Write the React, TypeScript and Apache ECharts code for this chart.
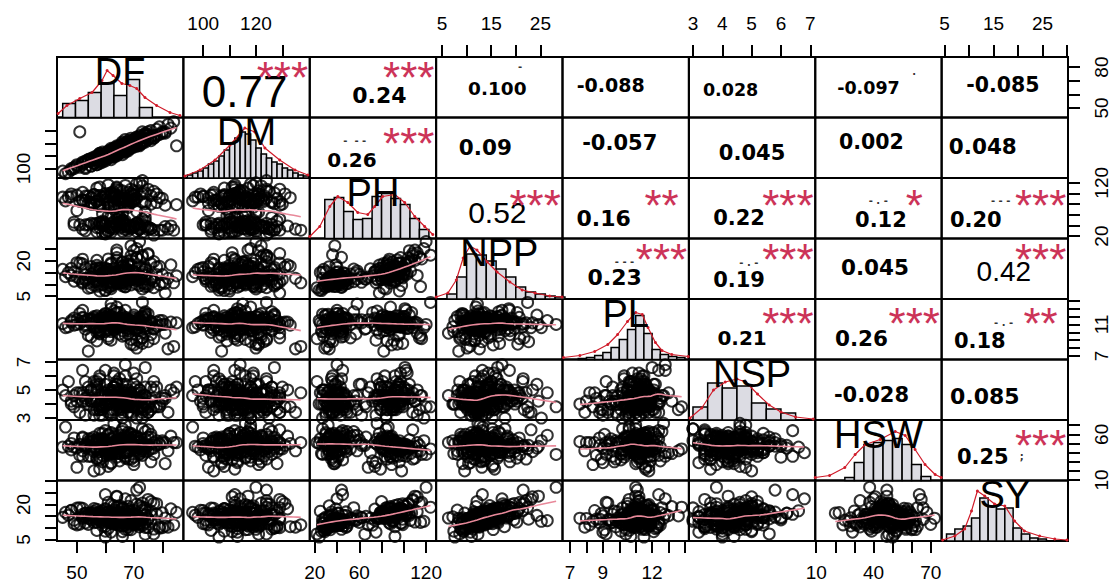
import React, { useEffect, useRef } from "react";
import * as echarts from "echarts";

// ---------- data ----------
const VARS = ["DF", "DM", "PH", "NPP", "PL", "NSP", "HSW", "SY"];

const DF = [62,58,71,66,49,75,68,55,64,70, 60,73,52,67,78,63,57,69,65,82, 47,61,72,66,59,76,54,68,63,71, 65,58,80,62,51,69,74,56,67,64, 70,61,53,77,66,59,72,48,63,68, 57,74,65,60,79,62,55,71,67,84, 50,64,73,58,69,66,76,61,56,70, 63,67,52,75,60,68,81,57,65,72, 46,62,70,59,74,66,54,69,63,77, 61,71,58,65,83,67,53,73,64,69,
  66,59,72,54,68,61,77,63,57,70, 64,52,69,74,60,67,58,81,65,71, 56,62,73,66,49,68,60,75,63,55, 70,65,58,79,62,67,53,72,61,69, 64,57,76,66,50,71,63,59,68,74, 45,65,62,70,56,73,67,60,64,85,
  68,55,63,72,60,66,58,75,62,70, 53,67,64,78,59,71,61,65,56,73, 69,62,48,66,74,57,64,70,60,67, 63,76,58,68,52,65,71,61,80,66, 59,69,64,55,73,62,67,57,70,64, 61,74,66,51,68,63,72,58,65,62];
const DM = [110,112,118,121,101,127,114,108,117,119, 106,129,104,113,131,116,103,124,112,135, 97,114,120,111,110,122,106,122,109,125, 118,104,128,115,129,116,127,109,120,111, 117,108,100,124,119,113,126,99,110,121, 110,121,114,112,133,107,102,118,123,137, 103,116,120,111,122,113,130,112,104,123, 115,114,105,123,108,117,129,108,117,119, 96,113,121,106,128,115,107,118,112,126, 109,124,110,113,132,119,101,125,118,120,
  118,105,125,107,115,113,124,116,109,122, 111,103,121,126,108,119,112,128,117,118, 104,114,121,120,100,116,111,129,110,106, 118,116,106,127,113,115,105,123,112,117, 115,108,125,114,102,120,114,110,119,122, 98,113,109,121,107,124,118,111,116,118,
  120,102,115,119,112,114,110,123,116,118, 106,120,112,126,107,124,109,118,108,121, 117,110,100,117,127,105,117,121,108,115, 111,124,109,116,104,113,120,113,129,118, 111,121,113,107,122,114,116,103,123,110, 112,126,115,101,119,116,118,106,116,113];
const PH = [35,79,43, 90,46,32,102,83,40,97,24,52,87, 38,99,76,44,108,55,33,93,81,120, 29,62,96,41,89,70,104,47,36,91, 58,85,34,101,43,87,112,39,74,95, 22,50,93,42,99,80,35,86,65,106, 45,92,37,82,118,88,31,97,60,84, 45,38,92,80,28,98,85,34,40,88, 36,95,30,78,110,42,33,86,75,105, 25,48,90,82,37,100,31,84,44,96, 72,39,115,41,27,88,94,
  88,42,36,95,78,30,104,47,85,40, 97,33,91,55,26,83,112,38,92,45, 80,35,99,62,41,86,27,108,94,44, 37,90,76,31,101,48,87,39,116,84, 43,96,34,89,68,29,103,46,82,39, 93,57,36,98,81,124,32,88,41,79,
  40,92,85,33,100,46,78,37,95,88, 30,44,107,83,39,91,58,35,98,42, 86,27,94,49,81,36,110,89,41,76, 97,34,45,87,102,38,66,93,31,84, 48,99,39,80,114,43,90,28,96,52, 37,85,105,41,74,92,33,88,46,101];
const NPP = [10.1,15.7,12.5, 16.1,11.4,9.3,18.5,13.2,12.8,15.5,7.6,14.4,20.7, 10.3,17.4,12.3,13.5,22.1,11.2,12.6,15.0,14.6,28.2, 9.4,13.1,18.8,10.6,13.7,16.6,21.3,11.8,13.4,14.2, 12.2,19.1,9.8,16.3,11.1,12.9,23.4,12.4,15.3,17.1, 8.6,10.4,14.8,12.0,16.8,13.9,11.5,18.1,12.3,15.6, 13.2,17.7,9.2,14.5,25.2,13.6,10.7, 19.2,14.3,8.1,13.8,26.4,11.0,12.1,16.4,9.6,13.0, 12.7,17.2,10.5,22.6,14.1,15.4,6.3,20.2,11.6,17.5, 13.3,10.8,24.3,15.1,10.2,19.6,8.4,12.0,14.7,11.3, 16.2,21.5,7.2,13.6,18.3,9.1,12.4,15.2,11.9,20.4,
  17.3,9.8,13.9,12.6,18.2,8.8,19.7,14.6,11.7,12.3, 21.4,11.1,14.2,16.5,7.4,15.9,13.8,10.4,17.9,13.2, 12.1,9.4,16.7,10.9,15.3,19.8,12.6,23.1,14.9,8.7, 12.9,13.5,16.2,9.9,18.6,11.5,14.1,13.7,20.8,12.4, 10.7,17.0,11.9,15.6,13.1,10.1,14.4,12.2,18.9,9.1, 16.4,14.8,11.4,13.3,15.1,22.4,12.7,16.9,10.3,13.6,
  13.4,17.6,12.3,9.5,15.2,14.9,16.8,10.2,19.1,13.1, 11.8,8.9,20.3,14.2,12.9,11.6,15.7,13.0,16.4,10.6, 18.3,8.2,13.8,12.1,17.2,11.3,24.6,15.4,14.0,11.9, 14.6,12.6,9.7,16.1,18.7,13.6,12.2,14.4,10.9,17.8, 13.3,12.8,15.1,13.2,21.7,11.0,16.3,9.2,14.7,12.5, 10.8,13.9,19.4,12.4,15.5,11.8,13.1,17.0,10.5,14.3];
const PL = [10.9,11.6,10.2,11.4,11.8,12.3,10.5,11.1,11.2, 10.8,11.5,9.3,11.9,10.6,11.3,12.7,10.0,11.2,11.6, 7.9,10.7,11.4,11.0,12.1,11.2,9.7,11.7,10.9,11.3, 11.0,11.8,10.3,11.5,13.6,11.1,9.1,12.0,10.6,11.4, 11.2,10.5,11.8,11.0,9.2,11.5,12.1,10.2,11.3,10.8, 9.8,11.6,10.4,11.1,12.4,10.9,11.4,11.7,10.6,11.9, 8.2,11.0,11.3,12.0,10.1,11.5,10.7,11.2,9.5,11.8, 11.0,10.3,12.8,11.4,8.8,11.1,11.6,9.9,11.3,10.9, 11.5,10.6,9.0,12.2,11.2,10.8,11.4,7.6,11.0,11.7, 10.4,11.9,11.1,10.7,12.5,11.3,9.6,11.5,11.0,13.2, 8.5,
  11.3,10.8,11.9,9.6,11.1,12.2,10.5,11.6,8.9,11.4, 10.7,11.8,11.2,12.6,10.1,11.5,9.9,11.0,11.7,10.4, 12.0,11.3,8.6,11.6,10.9,11.2,12.3,10.6,11.4,9.4, 11.9,11.0,10.3,11.5,13.0,11.1,10.8,11.7,9.2,11.3, 10.5,12.1,11.4,10.9,11.6,8.0,11.2,11.8,10.2,12.4, 11.1,9.8,11.5,10.7,11.3,13.8,11.0,10.4,11.7,11.2,
  11.0,11.7,10.6,11.3,12.0,9.5,11.5,10.9,11.8,11.2, 10.4,11.4,12.5,10.8,11.1,9.0,11.6,11.3,10.7,11.9, 11.2,10.1,11.5,11.8,12.2,10.6,11.0,8.4,11.4,11.7, 10.9,11.3,9.8,11.6,12.8,11.1,10.5,11.4,11.0,10.2, 11.8,11.2,10.8,11.5,9.3,12.1,11.3,10.6,11.7,11.0, 10.3,11.6,11.2,12.4,10.9,11.4,8.8,11.5,11.1,10.7];
const NSP = [4.4,3.6,5.2,3.8,4.6,4.0,5.0, 4.4,3.6,6.2,4.0,3.4,4.8,5.4,3.8,4.6,4.2, 4.8,4.0,3.4,5.6,4.4,3.8,5.0,3.2,4.2,4.6, 3.8,5.2,4.4,4.0,6.0,4.2,3.6,4.8,4.6,6.6, 3.2,4.2,5.0,3.8,4.6,4.4,5.6,4.0,3.6,4.8, 4.2,4.6,3.4,5.2,4.0,4.4,6.4,3.8,4.2,5.0, 3.0,4.0,4.8,4.2,5.4,4.6,3.6,4.8,4.4,5.2, 4.0,5.0,3.8,4.4,6.8,4.6,3.4,5.4,4.2,4.6, 4.2,3.8,5.0,4.6,3.2,5.4,4.8,3.6,4.4,4.0, 3.4,5.2,3.8,4.4,5.8,4.0,4.2,5.0,4.6,5.6, 3.0,4.2,4.8,
  4.6,3.8,4.2,5.2,4.0,3.4,5.0,4.4,3.6,4.8, 5.6,4.2,3.8,4.6,4.0,6.0,3.2,4.4,5.0,4.2, 3.6,4.8,4.4,5.4,3.8,4.0,4.6,3.4,5.2,4.2, 4.4,3.6,5.8,4.0,4.8,3.8,4.2,5.0,4.6,3.2, 4.0,5.4,4.4,3.6,4.8,4.2,6.2,3.8,4.6,4.0, 5.0,4.2,3.4,4.4,5.6,3.8,4.8,4.0,4.6,5.2,
  4.2,5.0,3.6,4.4,4.8,4.0,5.4,3.8,4.6,4.2, 3.2,4.8,4.4,5.2,4.0,3.6,4.6,5.8,4.2,3.8, 4.4,5.0,4.0,3.4,4.6,5.6,4.2,3.8,4.8,4.4, 5.2,3.6,4.0,4.6,6.4,4.2,3.8,5.0,4.4,3.0, 4.6,4.0,5.4,4.2,3.6,4.8,4.4,5.0,3.8,4.2, 4.0,5.2,4.6,3.4,4.4,6.0,4.2,3.8,4.8,4.6];
const HSW = [55, 22,43,52,46,57,49,36,54,45,50, 44,56,40,48,72,51,33,59,42,47, 45,38,52,48,30,55,58,40,47,44, 35,53,42,49,60,46,50,54,41,57, 25,47,51,56,37,52,43,49,33,55, 48,39,64,50,28,46,53,36,51,45, 54,42,32,59,47,44,50,20,49,56, 40,57,48,43,62,51,34,53,46,68, 29,45,55,41,50,52,61,44,38,49, 47,53,31,58,42,48,66,39,51,
  48,55,41,36,52,60,45,50,33,57, 47,42,54,63,39,49,51,28,46,58, 53,44,37,50,56,41,48,65,43,52, 31,47,55,49,40,59,45,52,38,54, 50,43,57,46,24,51,48,61,42,55, 46,53,39,49,57,44,70,48,35,51,
  52,44,58,39,47,55,61,42,50,35, 49,57,46,53,30,45,59,51,41,48, 56,38,50,63,44,53,47,27,54,49, 42,60,46,52,36,48,57,43,51,66, 45,50,40,55,48,62,34,52,46,58, 43,49,54,37,51,47,56,41,53,45];
const SY = [12.2,16.5,11.4, 15.6,13.3,10.1,19.2,14.4,12.6,16.2,6.1,13.5,18.3, 11.2,20.3,14.1,12.4,21.6,13.6,10.3,15.4,16.7,27.3, 8.4,14.5,17.2,11.5,15.3,14.2,20.1,12.7,13.4,16.4, 15.1,18.6,9.2,17.3,12.2,14.6,23.2,11.7,13.3,16.2, 7.4,12.1,15.6,13.2,17.5,14.3,10.4, 15.1,7.3,13.2,24.2,10.5,14.3,16.1,12.8,14.6,11.3, 18.4,12.3,17.6,15.5,13.1,6.4,21.2,12.1,16.3,15.2, 11.6,22.4,14.0,13.7,18.2,9.3,14.2,12.5,11.1,19.4, 16.6,8.2,15.3,17.1,10.2,13.4,14.1,12.4,19.5,9.5, 15.4,26.1,14.7,11.2,18.1,12.3,16.3,13.6,19.1,17.4,
  18.1,13.4,11.6,15.8,14.2,9.7,20.4,12.3,16.1,11.2, 17.3,14.8,13.0,18.6,8.6,14.1,16.9,10.8,19.5,12.7, 15.4,12.9,13.7,14.3,11.8,16.2,10.6,22.1,17.7,13.5, 11.9,15.9,14.6,9.9,15.2,16.8,12.1,13.8,20.9,14.9, 11.4,17.9,12.6,18.4,11.3,14.0,16.3,10.9,16.0,12.4, 14.5,13.1,15.7,12.0,17.1,18.8,11.5,15.0,13.9,16.6,
  12.5,15.3,16.0,10.4,17.8,13.2,14.7,13.9,19.9,11.7, 14.6,9.4,16.5,15.9,12.2,15.1,13.6,16.7,18.2,11.0, 14.8,12.0,17.4,10.7,15.6,13.8,23.5,12.9,16.2,14.0, 11.9,15.5,13.3,17.0,15.8,12.4,14.9,16.9,10.1,18.5, 15.2,11.4,14.3,16.4,20.6,13.0,12.8,8.9,17.3,14.1, 12.7,15.4,16.1,11.6,18.0,14.5,12.1,15.7,13.5,16.8];

const DATA = [DF, DM, PH, NPP, PL, NSP, HSW, SY];

// axis ranges per variable
const RANGES: number[][] = [[43, 87.4], [92.5, 140.4], [15.5, 129], [3.8, 29.5], [6.54, 14.24], [2.86, 7.17], [9.5, 75.7], [4.4, 30.2]];
const TICKS: number[][] = [[50, 60, 70, 80], [100, 110, 120, 130], [20, 40, 60, 80, 100, 120], [5, 10, 15, 20, 25], [7, 8, 9, 10, 11, 12, 13, 14], [3, 4, 5, 6, 7], [10, 20, 30, 40, 50, 60, 70], [5, 10, 15, 20, 25, 30]];
const OUTER_X_LABELS: number[][] = [[50, 70], [100, 120], [20, 60, 120], [5, 15, 25], [7, 9, 12], [3, 4, 5, 6, 7], [10, 40, 70], [5, 15, 25]];
const OUTER_Y_LABELS: number[][] = [[50, 80], [100], [20, 120], [5, 20], [7, 11], [3, 5, 7], [10, 60], [5, 20]];

// histograms (bin edges, bar heights) and density curves, per variable
const HIST_EDGES: number[][] = [
  [45, 49.5, 54, 58.5, 63, 67.5, 72, 76.5],
  [94, 96, 98, 100, 102, 104, 106, 108, 110, 112, 114, 116, 118, 120, 122, 124, 126, 128, 130, 132, 134, 136, 138, 140],
  [29, 37.5, 46, 54.5, 63, 71.5, 80, 88.5, 97, 105.5, 114, 122.5],
  [6, 8, 10, 12, 14, 16, 18, 20, 22, 24, 26, 28, 30],
  [7.5, 8, 8.5, 9, 9.5, 10, 10.5, 11, 11.5, 12, 12.5, 13, 13.5, 14],
  [3, 3.5, 4, 4.5, 5, 5.5, 6, 6.5],
  [25, 30, 35, 40, 45, 50, 55, 60, 65, 70],
  [5.4, 7.1, 8.8, 10.5, 12.2, 13.9, 15.6, 17.3, 19, 20.7, 22.4, 24.1, 25.8],
];
const HIST_COUNTS: number[][] = [
  [14, 17, 25, 34, 22, 38, 10],
  [3, 5, 7, 10, 14, 17, 22, 28, 34, 40, 46, 44, 38, 30, 24, 20, 16, 14, 10, 8, 5, 3, 2],
  [39, 41, 27, 19, 20, 42, 45, 40, 34, 20, 9],
  [5, 22, 45, 44, 38, 30, 22, 12, 7, 5, 3, 2],
  [1, 2, 4, 7, 12, 20, 30, 44, 26, 10, 5, 3, 2],
  [13, 37, 32, 34, 17, 11, 7],
  [3, 18, 36, 38, 40, 42, 36, 16, 4],
  [7, 12, 15, 23, 43, 35, 32, 33, 13, 7, 3, 2],
];
const DENSITY: number[][][] = [
  [[43.4, 4], [46.5, 12], [51, 19], [55.3, 25], [58.8, 37], [60.6, 47], [62.7, 42], [65.8, 34], [68.6, 32], [71, 29], [73.9, 20], [78, 12], [82.7, 5], [86.2, 2]],
  [[93.1, 2], [98.8, 8], [104.5, 18], [110.2, 33], [115.8, 50], [119.6, 46], [123.4, 30], [129, 18], [134.8, 8], [139.7, 3]],
  [[15.5, 2], [24.5, 12], [33.5, 32], [40.7, 42], [49.7, 36], [58.6, 26], [67.6, 24], [73.8, 32], [81, 42], [91.8, 44], [100.8, 36], [109.8, 22], [118.7, 12], [126, 4]],
  [[3.8, 2], [6.2, 6], [7.9, 19], [9.3, 41], [10.7, 53], [12.1, 49], [14.2, 37], [16.2, 27], [18.8, 17], [21.3, 9], [23.9, 6], [26.9, 3], [29.4, 2]],
  [[6.6, 2], [7.6, 4], [8.5, 8], [9.3, 15], [9.9, 25], [10.5, 38], [11, 47], [11.4, 45], [11.75, 32], [12.2, 17], [12.6, 9], [13.2, 5], [14.2, 3]],
  [[2.9, 2], [3.3, 12], [3.7, 30], [4.1, 38], [4.5, 41], [4.8, 38], [5.2, 26], [5.6, 15], [6.0, 8], [6.5, 3], [7.1, 1]],
  [[9.5, 3], [17, 5], [25, 13], [30.4, 26], [35.7, 36], [43.5, 41], [51.4, 49], [56.6, 45], [61.8, 31], [67, 16], [72.3, 6], [75.5, 3]],
  [[4.6, 1], [7.1, 5], [9.1, 12], [10.5, 30], [11.7, 50], [13.2, 45], [15.2, 37], [17.3, 35], [19.3, 20], [21.3, 10], [24.4, 5], [27.5, 2], [30, 1]],
];
const HIST_MAX = 60.5;

// correlation panels
const CORR_I = [0, 0, 0, 0, 0, 0, 0, 1, 1, 1, 1, 1, 1, 2, 2, 2, 2, 2, 3, 3, 3, 3, 4, 4, 4, 5, 5, 6];
const CORR_J = [1, 2, 3, 4, 5, 6, 7, 2, 3, 4, 5, 6, 7, 3, 4, 5, 6, 7, 4, 5, 6, 7, 5, 6, 7, 6, 7, 7];
const CORR_TEXT = ["0.77", "0.24", "0.100", "-0.088", "0.028", "-0.097", "-0.085", "0.26", "0.09", "-0.057", "0.045", "0.002", "0.048", "0.52", "0.16", "0.22", "0.12", "0.20", "0.23", "0.19", "0.045", "0.42", "0.21", "0.26", "0.18", "-0.028", "0.085", "0.25"];
const CORR_STARS = ["***", "***", "", "", "", "", "", "***", "", "", "", "", "", "***", "**", "***", "*", "***", "***", "***", "", "***", "***", "***", "**", "", "", "***"];

// ---------- layout / style ----------
const X0 = 57, Y0 = 57, CW = 126.375, CH = 60.5;
const SANS = "'Liberation Sans', Arial, sans-serif";
const BOLD = "'DejaVu Sans', Verdana, sans-serif";
// [dx, dy, fontSize, normalWeight]
const CORR_LAYOUT: number[][] = [
  [-2, 4, 44, 1], [6.5, 8, 22, 0], [-2, 1, 18.5, 0], [-15, -2, 19, 0], [-21.5, 3, 17.5, 0], [-10, 1, 17.5, 0], [-2, -2, 20.5, 0],
  [-21, 12, 20, 0], [-14, 0, 21.5, 0], [-6, -5, 21, 0], [0, 5, 21, 0], [-7, -6, 20.5, 0], [-22, -1, 21.5, 0],
  [-2, 4, 30, 1], [-22, 10, 22, 0], [-13, 10, 21, 0], [2.5, 12, 21, 0], [-29, 12, 21, 0],
  [-11, 9, 22, 0], [-13, 11, 21, 0], [-3.5, -1, 21.5, 0], [-1, 3, 28, 1],
  [-10, 9, 20, 0], [-17, 9, 21.5, 0], [-25, 12, 21, 0],
  [-7, 5, 21, 0], [-20, 7, 22, 0],
  [-22, 7, 21, 0],
];
const STAR_DY = [10, 16, 17, 11, 14, 14, 15];
// small stray marks: [row, col, dx, dy, text]
const MARKS: (number | string)[][] = [
  [0, 3, 84, 9, "-"], [0, 6, 99, 14, "."], [1, 2, 45, 23, "-  - -"], [2, 6, 63, 22, "- . -"], [2, 7, 59, 22, "- - -"],
  [3, 4, 62, 23, "- - -"], [3, 5, 60, 24, "- . -"], [4, 7, 62, 23, "- . -"], [6, 7, 80, 36, ";"],
];

function smooth(xs: number[], ys: number[]) {
  const n = xs.length;
  const k = Math.ceil((n * 2) / 3);
  const lo = Math.min(...xs), hi = Math.max(...xs);
  const out: number[][] = [];
  const steps = 30;
  for (let t = 0; t <= steps; t++) {
    const x0 = lo + ((hi - lo) * t) / steps;
    const d = xs.map((x) => Math.abs(x - x0));
    const sorted = [...d].sort((a, b) => a - b);
    const h = Math.max(sorted[k - 1], 1e-9) * 1.0001;
    let sw = 0, sx = 0, sy = 0, sxx = 0, sxy = 0;
    for (let m = 0; m < n; m++) {
      const u = d[m] / h;
      if (u >= 1) continue;
      const w = Math.pow(1 - u * u * u, 3);
      sw += w; sx += w * xs[m]; sy += w * ys[m]; sxx += w * xs[m] * xs[m]; sxy += w * xs[m] * ys[m];
    }
    const mx = sx / sw, my = sy / sw;
    const vx = sxx / sw - mx * mx;
    const b = vx > 1e-9 ? (sxy / sw - mx * my) / vx : 0;
    out.push([x0, my + b * (x0 - mx)]);
  }
  return out;
}

function buildOption() {
  const grid: any[] = [], xAxis: any[] = [], yAxis: any[] = [], series: any[] = [], elements: any[] = [];
  const tickStyle = { color: "#000", width: 2 };
  for (let i = 0; i < 8; i++) {
    for (let j = 0; j < 8; j++) {
      const idx = i * 8 + j;
      const left = X0 + j * CW, top = Y0 + i * CH;
      grid.push({ left, top, width: CW, height: CH, show: true, borderColor: "#000", borderWidth: 2, backgroundColor: "transparent" });
      const xBottom = i === 7 && j % 2 === 0;
      const xTop = i === 0 && j % 2 === 1;
      const xShow = xBottom || xTop;
      xAxis.push({
        gridIndex: idx, type: "value", min: RANGES[j][0], max: RANGES[j][1], position: xTop ? "top" : "bottom",
        axisLine: { show: false }, splitLine: { show: false },
        axisTick: xShow ? { show: true, inside: false, length: 12, customValues: TICKS[j], lineStyle: tickStyle } : { show: false },
        axisLabel: xShow ? { show: true, customValues: OUTER_X_LABELS[j], margin: xTop ? 24 : 22, fontSize: 19, color: "#000", fontFamily: SANS } : { show: false },
      });
      const yLeft = j === 0 && i % 2 === 1;
      const yRight = j === 7 && i % 2 === 0;
      const yShow = yLeft || yRight;
      const diag = i === j;
      yAxis.push({
        gridIndex: idx, type: "value", min: diag ? 0 : RANGES[i][0], max: diag ? HIST_MAX : RANGES[i][1], position: yRight ? "right" : "left",
        axisLine: { show: false }, splitLine: { show: false },
        axisTick: yShow ? { show: true, inside: false, length: 12, customValues: TICKS[i], lineStyle: tickStyle } : { show: false },
        axisLabel: yShow ? { show: true, customValues: OUTER_Y_LABELS[i], rotate: 90, margin: 24, fontSize: 19, color: "#000", fontFamily: SANS } : { show: false },
      });

      if (i > j) {
        const xs = DATA[j], ys = DATA[i];
        series.push({
          type: "scatter", xAxisIndex: idx, yAxisIndex: idx, silent: true,
          data: xs.map((x, k) => [x, ys[k]]),
          symbol: "circle", symbolSize: 11,
          itemStyle: { color: "rgba(0,0,0,0)", borderColor: "#000", borderWidth: 2 },
          clip: false, z: 2,
        });
        series.push({
          type: "line", xAxisIndex: idx, yAxisIndex: idx, silent: true, showSymbol: false,
          data: smooth(xs, ys), lineStyle: { color: "#e8899a", width: 1.6 }, z: 3,
        });
      } else if (diag) {
        const edges = HIST_EDGES[i], counts = HIST_COUNTS[i];
        series.push({
          type: "custom", xAxisIndex: idx, yAxisIndex: idx, silent: true, z: 2,
          data: counts.map((c, k) => [edges[k], edges[k + 1], c]),
          encode: { x: [0, 1], y: 2 },
          renderItem: (_p: any, api: any) => {
            const a = api.coord([api.value(0), api.value(2)]);
            const b = api.coord([api.value(1), 0]);
            return {
              type: "rect",
              shape: { x: a[0], y: a[1], width: b[0] - a[0], height: b[1] - a[1] },
              style: { fill: "#dcdce3", stroke: "#000", lineWidth: 1.5 },
            };
          },
        });
        series.push({
          type: "line", xAxisIndex: idx, yAxisIndex: idx, silent: true, z: 3,
          data: DENSITY[i], symbol: "circle", symbolSize: 3, showSymbol: true,
          lineStyle: { color: "#d01c2a", width: 1.2 }, itemStyle: { color: "#d01c2a" },
        });
        elements.push({
          type: "text", x: left + CW / 2, y: top + 14.5, z: 50,
          style: { text: VARS[i], fontSize: 38, fontFamily: SANS, fill: "#000", align: "center", verticalAlign: "middle" },
        });
      }
    }
  }

  CORR_TEXT.forEach((txt, k) => {
    const i = CORR_I[k], j = CORR_J[k];
    const left = X0 + j * CW, top = Y0 + i * CH;
    const [dx, dy, fs, normal] = CORR_LAYOUT[k];
    elements.push({
      type: "text", x: left + CW / 2 + dx, y: top + CH / 2 + dy, z: 50,
      style: {
        text: txt, fontSize: fs, fontFamily: normal ? SANS : BOLD, fontWeight: normal ? "normal" : "bold",
        fill: "#000", align: "center", verticalAlign: "middle",
      },
    });
    if (CORR_STARS[k]) {
      elements.push({
        type: "text", x: left + 99, y: top + STAR_DY[i] + 10, z: 51,
        style: { text: CORR_STARS[k], fontSize: 44, fontFamily: SANS, fill: "#cc3358", align: "center", verticalAlign: "middle" },
      });
    }
  });

  MARKS.forEach((m) => {
    const [i, j, dx, dy, t] = m as [number, number, number, number, string];
    elements.push({
      type: "text", x: X0 + j * CW + dx, y: Y0 + i * CH + dy, z: 49,
      style: { text: t, fontSize: 10, fontFamily: BOLD, fontWeight: "bold", fill: "#333", align: "center", verticalAlign: "middle" },
    });
  });

  return { animation: false, backgroundColor: "#fff", grid, xAxis, yAxis, series, graphic: { elements } };
}

export default function App() {
  const ref = useRef<HTMLDivElement>(null);
  useEffect(() => {
    if (!ref.current) return;
    const chart = echarts.init(ref.current, null, { renderer: "svg" });
    chart.setOption(buildOption() as any);
    return () => chart.dispose();
  }, []);
  return <div ref={ref} style={{ position: "absolute", left: 0, top: 0, width: 1113, height: 587, background: "#fff" }} />;
}
